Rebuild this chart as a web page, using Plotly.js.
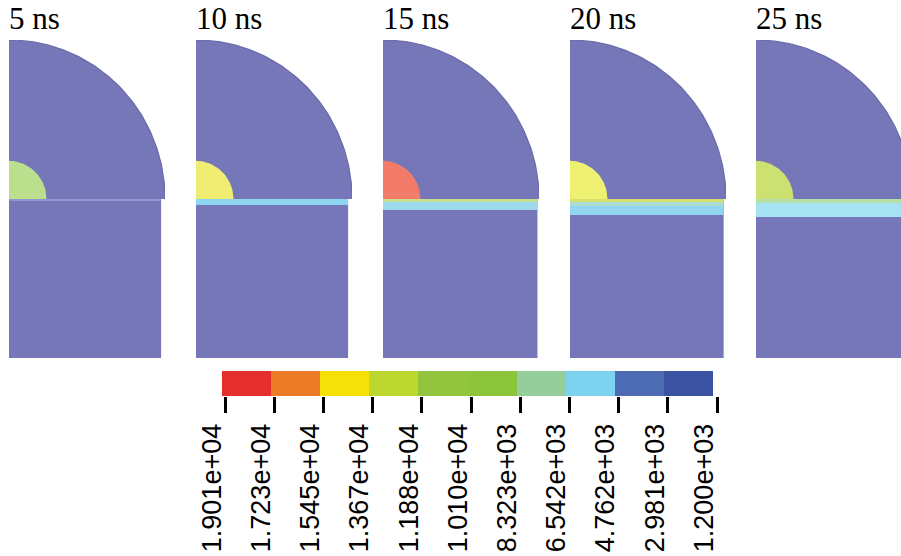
<!DOCTYPE html>
<html>
<head>
<meta charset="utf-8">
<script src="https://cdn.plot.ly/plotly-3.0.1.min.js"></script>
<style>html,body{margin:0;padding:0;background:#fff;}#chart{width:901px;height:556px;}</style>
</head>
<body>
<div id="chart"></div>
<script>
// ---- data ----
const panelTimes = ['5 ns', '10 ns', '15 ns', '20 ns', '25 ns'];
const shellRadius = [1, 1, 1, 1, 1];
const coreRadius = [0.24, 0.24, 0.24, 0.24, 0.24];
const substrateWidth = [0.975, 0.975, 0.99, 0.985, 0.975];
const substrateDepth = [1, 1, 1, 1, 1];
const coreColor = ['#bbdf8c', '#f0ee72', '#f27b69', '#eef072', '#cde172'];
// stress-wave front layers below the interface (thickness in units of shell radius)
const frontThickness = [[0.013], [0.038], [0.019, 0.05], [0.019, 0.025, 0.057], [0.025, 0.088]];
const frontColor = [['#8b97cd'], ['#8fd5ef'], ['#c6e08e', '#9cdaeb'], ['#d4e06c', '#aadcd2', '#92d5ee'], ['#b2e0a6', '#a6e2f2']];
const levelLabels = ['1.901e+04', '1.723e+04', '1.545e+04', '1.367e+04', '1.188e+04', '1.010e+04',
                     '8.323e+03', '6.542e+03', '4.762e+03', '2.981e+03', '1.200e+03'];
const bandColors = ['#e52e2e', '#ec7b27', '#f5e109', '#bdd731', '#92c53d', '#8cc43c',
                    '#96cd9c', '#7dd3ef', '#4e6cb4', '#3a52a1'];

// ---- styles / layout ----
const W = 901, H = 556;
const baseBlue = '#7677b9';
const panelLeft = [9, 196, 383, 570, 756];
const panelUnitPx = 156;
const panelTop = 40, panelBottom = 358;

function quarter(r, n) {
  const xs = [0], ys = [0];
  for (let k = 0; k <= n; k++) {
    const a = k / n * Math.PI / 2;
    xs.push(r * Math.cos(a)); ys.push(r * Math.sin(a));
  }
  xs.push(0); ys.push(0);
  return {xs, ys};
}

const traces = [];
const layout = {
  width: W, height: H, margin: {l: 0, r: 0, t: 0, b: 0},
  paper_bgcolor: '#ffffff', plot_bgcolor: 'rgba(0,0,0,0)', showlegend: false,
  annotations: []
};

panelTimes.forEach((t, i) => {
  const s = i === 0 ? '' : String(i + 1);
  const xa = 'x' + s, ya = 'y' + s;
  const L = panelLeft[i];
  const R = Math.min(L + panelUnitPx, W);
  layout['xaxis' + s] = {domain: [L / W, R / W], range: [0, (R - L) / panelUnitPx], visible: false, fixedrange: true, anchor: ya};
  layout['yaxis' + s] = {domain: [(H - panelBottom) / H, (H - panelTop) / H], range: [-1, 1], visible: false, fixedrange: true, anchor: xa};
  const sw = substrateWidth[i], sd = substrateDepth[i];
  traces.push({type: 'scatter', mode: 'lines', xaxis: xa, yaxis: ya,
    x: [0, sw, sw, 0, 0], y: [0, 0, -sd, -sd, 0], fill: 'toself', fillcolor: baseBlue, line: {width: 0}, hoverinfo: 'skip'});
  const big = quarter(shellRadius[i], 120);
  traces.push({type: 'scatter', mode: 'lines', xaxis: xa, yaxis: ya,
    x: big.xs, y: big.ys, fill: 'toself', fillcolor: baseBlue, line: {width: 0}, hoverinfo: 'skip'});
  traces.push({type: 'scatter', mode: 'lines', xaxis: xa, yaxis: ya,
    x: big.xs.slice(1, -1), y: big.ys.slice(1, -1), line: {color: '#6b6baa', width: 1.3}, hoverinfo: 'skip'});
  const core = quarter(coreRadius[i], 60);
  traces.push({type: 'scatter', mode: 'lines', xaxis: xa, yaxis: ya,
    x: core.xs, y: core.ys, fill: 'toself', fillcolor: coreColor[i], line: {width: 0}, hoverinfo: 'skip'});
  let y0 = 0;
  frontThickness[i].forEach((th, j) => {
    const y1 = y0 - th;
    traces.push({type: 'scatter', mode: 'lines', xaxis: xa, yaxis: ya,
      x: [0, sw, sw, 0, 0], y: [y0, y0, y1, y1, y0], fill: 'toself', fillcolor: frontColor[i][j], line: {width: 0}, hoverinfo: 'skip'});
    y0 = y1;
  });
  layout.annotations.push({text: t, xref: 'paper', yref: 'paper', x: (L - 2) / W, y: (H - 38) / H,
    xanchor: 'left', yanchor: 'bottom', showarrow: false,
    font: {family: 'Liberation Serif, Times New Roman, serif', size: 31, color: '#000'}});
});

// colour bar
const zRow = bandColors.map((c, i) => i);
const cs = [];
bandColors.forEach((c, i) => { cs.push([i / bandColors.length, c]); cs.push([(i + 1) / bandColors.length, c]); });
traces.push({type: 'heatmap', xaxis: 'x6', yaxis: 'y6', z: [zRow], x: zRow, y: [0],
  colorscale: cs, zmin: 0, zmax: bandColors.length - 1, showscale: false, hoverinfo: 'skip'});
layout.xaxis6 = {domain: [222 / W, 713 / W], range: [-0.5, bandColors.length - 0.5], visible: false, fixedrange: true, anchor: 'y6'};
layout.yaxis6 = {domain: [(H - 396) / H, (H - 371) / H], range: [-0.5, 0.5], visible: false, fixedrange: true, anchor: 'x6'};

const tickPos = levelLabels.map((l, i) => i);
traces.push({type: 'scatter', mode: 'markers', xaxis: 'x7', yaxis: 'y7', x: [], y: [], hoverinfo: 'skip'});
layout.xaxis7 = {domain: [225 / W, 717 / W], range: [0, levelLabels.length - 1], anchor: 'y7',
  tickmode: 'array', tickvals: tickPos, ticktext: levelLabels,
  ticks: 'outside', ticklen: 16, tickwidth: 3, tickcolor: '#000',
  showline: false, showgrid: false, zeroline: false, tickangle: -90,
  tickfont: {family: 'Liberation Sans, Arial, sans-serif', size: 27, color: '#000'},
  ticklabelstandoff: 0, ticklabelshift: -13, fixedrange: true};
layout.yaxis7 = {domain: [(H - 396) / H, (H - 371) / H], range: [0, 1], visible: false, fixedrange: true, anchor: 'x7'};

Plotly.newPlot('chart', traces, layout, {staticPlot: true, displayModeBar: false});
</script>
</body>
</html>
